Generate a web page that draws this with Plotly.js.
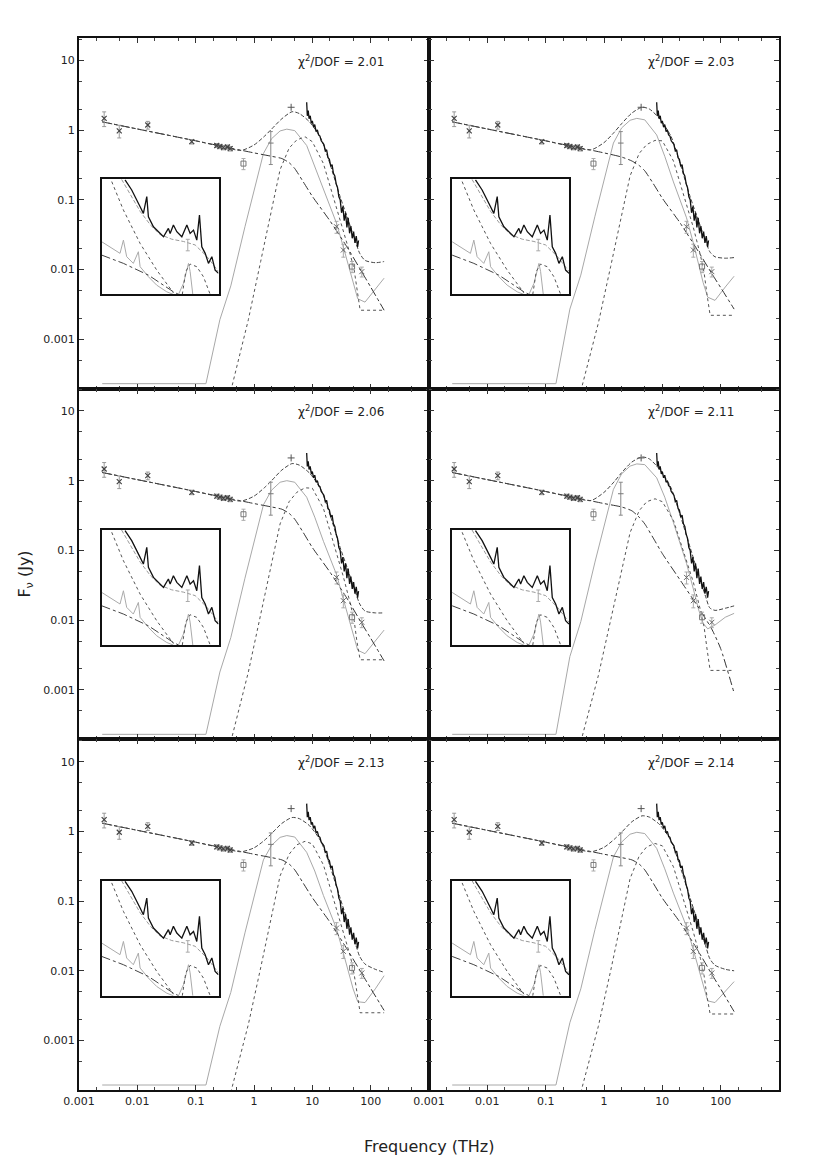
<!DOCTYPE html>
<html>
<head>
<meta charset="utf-8">
<script src="https://cdn.plot.ly/plotly-3.0.1.min.js"></script>
<style>
html,body{margin:0;padding:0;background:#fff;}
#chart{width:817px;height:1169px;}
</style>
</head>
<body>
<div id="chart"></div>
<script>
// ---------------- data ----------------
const chiLabels = ["2.01", "2.03", "2.06", "2.11", "2.13", "2.14"];
const xTickVals = [0.001, 0.01, 0.1, 1, 10, 100];
const xTickText = ["0.001", "0.01", "0.1", "1", "10", "100"];
const yTickVals = [0.001, 0.01, 0.1, 1, 10];
const yTickText = ["0.001", "0.01", "0.1", "1", "10"];

// observed radio / mm points
const lowF = [0.0027, 0.0049, 0.0151, 0.0857, 0.23, 0.26, 0.3, 0.35, 0.39];
const lowV = [1.47, 0.97, 1.18, 0.68, 0.6, 0.58, 0.56, 0.57, 0.54];
const lowErr = [0.35, 0.2, 0.15, 0.05, 0.04, 0.04, 0.04, 0.04, 0.04];
const sqF = [0.66, 48];
const sqV = [0.33, 0.011];
const sqErr = [0.06, 0.002];
const barF = [1.94];
const barV = [0.65];
const barErrUp = [0.3];
const barErrDn = [0.33];
const plusF = [4.33];
const plusV = [2.12];
const irF = [26, 34, 70.5];
const irV = [0.041, 0.019, 0.0093];
const irErr = [0.008, 0.004, 0.0015];

// mid-IR spectrum
const specF = [8.0, 8.2, 8.5, 8.8, 9.2, 9.6, 10, 10.5, 11, 11.6, 12.2, 12.8, 13.5, 14.2, 15, 15.8, 16.7, 17.6, 18.6, 19.6, 20.7, 21.8, 23, 24.3, 25.6, 27, 28.5, 30, 31.7, 33.4, 35.2, 37.1, 39.1, 41.2, 43.5, 45.8, 48.3, 51, 53.7, 56.6, 59.7, 62];
const specV = [2.5, 1.6, 1.9, 1.45, 1.6, 1.25, 1.35, 1.1, 1.2, 0.95, 1.0, 0.85, 0.82, 0.7, 0.66, 0.62, 0.5, 0.52, 0.4, 0.38, 0.3, 0.32, 0.24, 0.22, 0.17, 0.15, 0.11, 0.1, 0.065, 0.08, 0.05, 0.065, 0.04, 0.055, 0.033, 0.042, 0.028, 0.035, 0.024, 0.03, 0.021, 0.026];

// model components, one row per panel
const synchF = [0.0025, 0.01, 0.1, 1, 2, 3, 4, 5, 7, 10, 20, 40, 70, 100, 170];
const synchV = [
  [1.31, 1.035, 0.70, 0.47, 0.42, 0.39, 0.34, 0.28, 0.18, 0.112, 0.05, 0.0205, 0.0093, 0.0056, 0.0026],
  [1.31, 1.035, 0.70, 0.47, 0.41, 0.36, 0.31, 0.26, 0.17, 0.105, 0.047, 0.019, 0.0088, 0.0055, 0.0027],
  [1.31, 1.035, 0.70, 0.47, 0.42, 0.39, 0.34, 0.28, 0.18, 0.11, 0.049, 0.02, 0.009, 0.0055, 0.0026],
  [1.31, 1.035, 0.70, 0.47, 0.42, 0.37, 0.30, 0.24, 0.15, 0.09, 0.038, 0.016, 0.0075, 0.0039, 0.0009],
  [1.31, 1.035, 0.70, 0.47, 0.42, 0.39, 0.34, 0.28, 0.18, 0.112, 0.05, 0.02, 0.0092, 0.0056, 0.0027],
  [1.31, 1.035, 0.70, 0.47, 0.42, 0.39, 0.34, 0.28, 0.18, 0.11, 0.05, 0.02, 0.009, 0.0055, 0.0026]
];
const totalF = [0.0025, 0.01, 0.1, 0.3, 0.6, 1, 1.5, 2, 3, 4.5, 6, 9, 14, 20, 30, 40, 55, 65, 80, 120, 170];
const totalV = [
  [1.31, 1.035, 0.70, 0.57, 0.51, 0.61, 0.81, 1.03, 1.45, 1.83, 1.72, 1.3, 0.76, 0.33, 0.11, 0.055, 0.025, 0.017, 0.0135, 0.0125, 0.013],
  [1.31, 1.035, 0.70, 0.57, 0.52, 0.66, 0.93, 1.23, 1.75, 2.12, 2.0, 1.45, 0.82, 0.34, 0.11, 0.055, 0.026, 0.018, 0.0152, 0.0145, 0.0148],
  [1.31, 1.035, 0.70, 0.57, 0.51, 0.6, 0.79, 1.0, 1.42, 1.76, 1.67, 1.28, 0.75, 0.33, 0.11, 0.055, 0.025, 0.017, 0.0135, 0.0127, 0.0127],
  [1.31, 1.035, 0.70, 0.57, 0.52, 0.68, 0.97, 1.3, 1.85, 2.19, 2.05, 1.45, 0.8, 0.33, 0.11, 0.05, 0.022, 0.015, 0.0138, 0.0148, 0.016],
  [1.31, 1.035, 0.70, 0.57, 0.51, 0.58, 0.74, 0.93, 1.3, 1.58, 1.52, 1.2, 0.72, 0.32, 0.11, 0.052, 0.024, 0.016, 0.0125, 0.0105, 0.0095],
  [1.31, 1.035, 0.70, 0.57, 0.51, 0.59, 0.77, 0.97, 1.37, 1.67, 1.6, 1.25, 0.74, 0.32, 0.11, 0.052, 0.023, 0.015, 0.012, 0.0105, 0.01]
];
const dust1F = [0.0025, 0.15, 0.26, 0.4, 0.7, 1, 1.45, 2, 2.8, 3.65, 5, 8, 11, 15.5, 20, 26, 34, 42, 50, 60, 80, 120, 170];
const dust1V = [
  [2.3e-4, 2.3e-4, 0.0019, 0.0058, 0.041, 0.135, 0.46, 0.75, 0.97, 1.03, 0.98, 0.6, 0.3, 0.138, 0.08, 0.046, 0.021, 0.011, 0.0062, 0.0038, 0.0034, 0.0052, 0.0075],
  [2.3e-4, 2.3e-4, 0.0027, 0.0083, 0.058, 0.19, 0.65, 1.07, 1.38, 1.47, 1.4, 0.85, 0.42, 0.18, 0.1, 0.055, 0.024, 0.012, 0.0065, 0.004, 0.0036, 0.0056, 0.008],
  [2.3e-4, 2.3e-4, 0.0018, 0.0056, 0.04, 0.13, 0.45, 0.73, 0.95, 1.0, 0.95, 0.58, 0.3, 0.135, 0.078, 0.045, 0.02, 0.0105, 0.006, 0.0037, 0.0033, 0.005, 0.0072],
  [2.3e-4, 2.3e-4, 0.003, 0.0095, 0.068, 0.22, 0.75, 1.25, 1.62, 1.74, 1.7, 1.1, 0.58, 0.25, 0.13, 0.065, 0.028, 0.014, 0.009, 0.0075, 0.0085, 0.011, 0.0125],
  [2.3e-4, 2.3e-4, 0.0016, 0.0049, 0.035, 0.115, 0.39, 0.63, 0.82, 0.87, 0.83, 0.5, 0.27, 0.12, 0.07, 0.04, 0.018, 0.0095, 0.0055, 0.0036, 0.0035, 0.0055, 0.0085],
  [2.3e-4, 2.3e-4, 0.0018, 0.0055, 0.039, 0.127, 0.43, 0.7, 0.91, 0.97, 0.93, 0.57, 0.29, 0.13, 0.075, 0.043, 0.02, 0.0105, 0.006, 0.0037, 0.0035, 0.005, 0.007]
];
const dust2F = [0.40, 0.8, 1.3, 2, 2.8, 4, 5.4, 7.5, 10, 15.5, 23, 34, 45, 52, 58, 66, 170];
const dust2V = [
  [1.8e-4, 0.0019, 0.013, 0.07, 0.27, 0.55, 0.72, 0.8, 0.68, 0.33, 0.11, 0.037, 0.016, 0.01, 0.0051, 0.0026, 0.0026],
  [1.8e-4, 0.0017, 0.011, 0.06, 0.22, 0.46, 0.62, 0.71, 0.7, 0.36, 0.12, 0.04, 0.016, 0.009, 0.0045, 0.0022, 0.0022],
  [1.8e-4, 0.0018, 0.012, 0.065, 0.24, 0.5, 0.68, 0.79, 0.78, 0.4, 0.13, 0.042, 0.017, 0.01, 0.005, 0.0027, 0.0027],
  [1.8e-4, 0.0016, 0.01, 0.05, 0.18, 0.37, 0.5, 0.55, 0.5, 0.27, 0.1, 0.035, 0.014, 0.008, 0.004, 0.0019, 0.0019],
  [1.8e-4, 0.0017, 0.011, 0.06, 0.23, 0.47, 0.64, 0.72, 0.66, 0.33, 0.11, 0.037, 0.016, 0.009, 0.0046, 0.0025, 0.0025],
  [1.8e-4, 0.0016, 0.01, 0.055, 0.21, 0.44, 0.6, 0.67, 0.62, 0.31, 0.105, 0.036, 0.015, 0.0085, 0.0044, 0.0024, 0.0024]
];

// inset (zoom on the mid-IR spectrum), relative units 0..1
const insSpecX = [0.2, 0.257, 0.329, 0.357, 0.386, 0.4, 0.443, 0.486, 0.529, 0.571, 0.586, 0.614, 0.643, 0.686, 0.729, 0.757, 0.786, 0.814, 0.837, 0.857, 0.886, 0.914, 0.943, 0.971, 1.0];
const insSpecY = [0.994, 0.907, 0.762, 0.704, 0.849, 0.675, 0.588, 0.545, 0.501, 0.574, 0.53, 0.603, 0.545, 0.501, 0.603, 0.53, 0.559, 0.472, 0.69, 0.414, 0.357, 0.27, 0.328, 0.212, 0.183];
const insModelX = [0.17, 0.25, 0.33, 0.42, 0.5, 0.6, 0.7, 0.8, 0.9, 1.0];
const insModelY = [1.0, 0.86, 0.72, 0.6, 0.52, 0.48, 0.46, 0.43, 0.33, 0.2];
const insDustX = [0.086, 0.186, 0.329, 0.471, 0.614];
const insDustY = [0.98, 0.733, 0.443, 0.212, 0.014];
const insPahX = [0, 0.071, 0.157, 0.186, 0.214, 0.271, 0.314, 0.329, 0.4, 0.471, 0.557, 0.614];
const insPahY = [0.458, 0.414, 0.357, 0.472, 0.328, 0.27, 0.371, 0.241, 0.154, 0.081, 0.023, 0];
const insSynX = [0, 0.186, 0.4, 0.614, 0.66];
const insSynY = [0.342, 0.27, 0.168, 0.023, 0];
const insBumpX = [0.657, 0.7, 0.729, 0.743, 0.757, 0.77, 0.78];
const insBumpY = [0, 0.096, 0.212, 0.27, 0.2, 0.06, 0];
const insBumpDotX = [0.69, 0.72, 0.757, 0.814, 0.871, 0.929];
const insBumpDotY = [0, 0.2, 0.264, 0.241, 0.154, 0];
const insPtX = [0.737];
const insPtY = [0.429];

// ---------------- build ----------------
const FONT = "DejaVu Sans, Liberation Sans, Arial, sans-serif";
const traces = [];
const layout = {
  width: 817, height: 1169,
  margin: {l: 79, r: 38, t: 38, b: 79},
  paper_bgcolor: "#fff", plot_bgcolor: "rgba(0,0,0,0)",
  showlegend: false,
  font: {family: FONT, size: 11, color: "#222"},
  annotations: []
};

const insXDom = [[0.0324, 0.1993], [0.533, 0.700]];
const insYTop = [0.7562, 0.8657];

for (let i = 0; i < 6; i++) {
  const r = Math.floor(i / 2), c = i % 2;
  const n = i + 1;
  const xa = "x" + (n === 1 ? "" : n), ya = "y" + (n === 1 ? "" : n);
  const xk = "xaxis" + (n === 1 ? "" : n), yk = "yaxis" + (n === 1 ? "" : n);
  const yDom = [[2/3, 1], [1/3, 2/3], [0, 1/3]][r];
  const xDom = [[0, 0.5], [0.5, 1]][c];

  layout[xk] = {
    type: "log", range: [-3, 3], domain: xDom, anchor: ya,
    showline: true, linewidth: 2, linecolor: "#111", mirror: "ticks",
    ticks: "inside", ticklen: 5, tickwidth: 1, tickcolor: "#333",
    tickmode: "array", tickvals: xTickVals, ticktext: xTickText,
    showticklabels: r === 2, showgrid: false, zeroline: false,
    tickfont: {family: FONT, size: 11, color: "#222"},
    minor: {ticks: "inside", ticklen: 3, tickwidth: 1, tickcolor: "#444", dtick: "D2", showgrid: false}
  };
  layout[yk] = {
    type: "log", range: [-3.71, 1.32], domain: yDom, anchor: xa,
    showline: true, linewidth: 2, linecolor: "#111", mirror: "ticks",
    ticks: "inside", ticklen: 5, tickwidth: 1, tickcolor: "#333",
    tickmode: "array", tickvals: yTickVals, ticktext: yTickText,
    showticklabels: c === 0, showgrid: false, zeroline: false,
    tickfont: {family: FONT, size: 11, color: "#222"},
    minor: {ticks: "inside", ticklen: 3, tickwidth: 1, tickcolor: "#444", dtick: "D2", showgrid: false}
  };

  const base = {xaxis: xa, yaxis: ya, hoverinfo: "skip"};
  traces.push(Object.assign({type: "scatter", mode: "lines", x: dust1F, y: dust1V[i],
    line: {color: "#a8a8a8", width: 1}}, base));
  traces.push(Object.assign({type: "scatter", mode: "lines", x: dust2F, y: dust2V[i],
    line: {color: "#555", width: 1, dash: "dot"}}, base));
  traces.push(Object.assign({type: "scatter", mode: "lines", x: synchF, y: synchV[i],
    line: {color: "#333", width: 1, dash: "dashdot", shape: "spline", smoothing: 0.6}}, base));
  traces.push(Object.assign({type: "scatter", mode: "lines", x: totalF, y: totalV[i],
    line: {color: "#444", width: 1, dash: "4px,2px", shape: "spline", smoothing: 0.7}}, base));
  traces.push(Object.assign({type: "scatter", mode: "lines", x: specF, y: specV,
    line: {color: "#111", width: 1.3}}, base));
  traces.push(Object.assign({type: "scatter", mode: "markers", x: lowF, y: lowV,
    marker: {symbol: "x-thin", size: 5, color: "#444", line: {width: 1.2, color: "#444"}},
    error_y: {type: "data", array: lowErr, color: "#999", thickness: 1, width: 2}}, base));
  traces.push(Object.assign({type: "scatter", mode: "markers", x: sqF, y: sqV,
    marker: {symbol: "square-open", size: 5, color: "#777", line: {width: 1}},
    error_y: {type: "data", array: sqErr, color: "#aaa", thickness: 1, width: 2}}, base));
  traces.push(Object.assign({type: "scatter", mode: "markers", x: barF, y: barV,
    marker: {symbol: "line-ew", size: 4, color: "#777", line: {width: 1, color: "#777"}},
    error_y: {type: "data", symmetric: false, array: barErrUp, arrayminus: barErrDn, color: "#888", thickness: 1, width: 2}}, base));
  traces.push(Object.assign({type: "scatter", mode: "markers", x: plusF, y: plusV,
    marker: {symbol: "cross-thin", size: 5, color: "#555", line: {width: 1, color: "#555"}}}, base));
  traces.push(Object.assign({type: "scatter", mode: "markers", x: irF, y: irV,
    marker: {symbol: "x-thin", size: 5, color: "#666", line: {width: 1, color: "#666"}},
    error_y: {type: "data", array: irErr, color: "#aaa", thickness: 1, width: 2}}, base));

  // inset
  const m = n + 6;
  const ixk = "xaxis" + m, iyk = "yaxis" + m;
  const iDomY = [insYTop[0] - r / 3, insYTop[1] - r / 3];
  layout[ixk] = {domain: insXDom[c], anchor: "y" + m, range: [0, 1], showline: true, mirror: true,
    linewidth: 2, linecolor: "#111", ticks: "", showticklabels: false, showgrid: false, zeroline: false};
  layout[iyk] = {domain: iDomY, anchor: "x" + m, range: [0, 1], showline: true, mirror: true,
    linewidth: 2, linecolor: "#111", ticks: "", showticklabels: false, showgrid: false, zeroline: false};
  const ib = {xaxis: "x" + m, yaxis: "y" + m, hoverinfo: "skip", type: "scatter", mode: "lines"};
  traces.push(Object.assign({x: insPahX, y: insPahY, line: {color: "#aaa", width: 1}}, ib));
  traces.push(Object.assign({x: insSynX, y: insSynY, line: {color: "#444", width: 1, dash: "dashdot"}}, ib));
  traces.push(Object.assign({x: insDustX, y: insDustY, line: {color: "#555", width: 1, dash: "dot"}}, ib));
  traces.push(Object.assign({x: insBumpX, y: insBumpY, line: {color: "#aaa", width: 1}}, ib));
  traces.push(Object.assign({x: insBumpDotX, y: insBumpDotY, line: {color: "#555", width: 1, dash: "dot"}}, ib));
  traces.push(Object.assign({x: insModelX, y: insModelY, line: {color: "#999", width: 1, dash: "4px,2px"}}, ib));
  traces.push(Object.assign({x: insSpecX, y: insSpecY, line: {color: "#111", width: 1.3}}, ib));
  traces.push(Object.assign({x: insPtX, y: insPtY, mode: "markers",
    marker: {symbol: "x-thin", size: 5, color: "#666", line: {width: 1, color: "#666"}},
    error_y: {type: "constant", value: 0.05, color: "#aaa", thickness: 1, width: 2}}, ib));

  layout.annotations.push({
    xref: xa + " domain", yref: ya + " domain", x: 0.877, y: 0.935,
    xanchor: "right", yanchor: "middle", showarrow: false,
    text: "χ<sup>2</sup>/DOF = " + chiLabels[i],
    font: {family: FONT, size: 12, color: "#222"}
  });
}

layout.annotations.push({
  xref: "paper", yref: "paper", x: 0.5, y: -0.054, xanchor: "center", yanchor: "middle",
  showarrow: false, text: "Frequency (THz)", font: {family: FONT, size: 16, color: "#222"}
});
layout.annotations.push({
  xref: "paper", yref: "paper", x: -0.077, y: 0.49, xanchor: "center", yanchor: "middle",
  showarrow: false, textangle: -90, text: "F<sub>ν</sub> (Jy)", font: {family: FONT, size: 16, color: "#222"}
});

Plotly.newPlot("chart", traces, layout, {displayModeBar: false, staticPlot: true});
</script>
</body>
</html>
